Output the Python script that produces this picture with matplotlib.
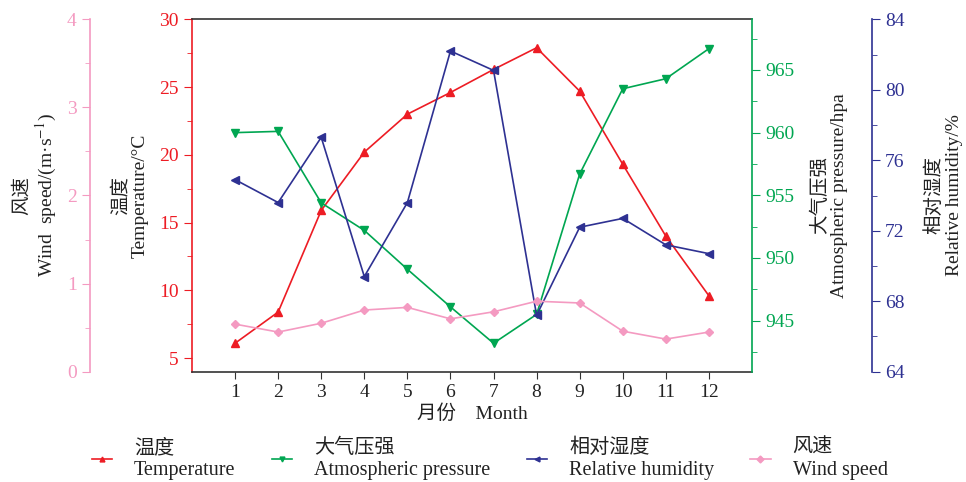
import numpy as np
import matplotlib
matplotlib.use('Agg')
import matplotlib.pyplot as plt
from matplotlib.ticker import MultipleLocator

plt.rcParams['font.family'] = ['Liberation Serif', 'Noto Sans CJK SC']
plt.rcParams['mathtext.fontset'] = 'stix'

# data
months = np.arange(1, 13)
temperature = [6.1, 8.4, 15.9, 20.2, 23.0, 24.6, 26.3, 27.9, 24.7, 19.3, 14.0, 9.6]
pressure = [960.0, 960.1, 954.4, 952.2, 949.1, 946.1, 943.2, 945.5, 956.7, 963.5, 964.3, 966.7]
humidity = [74.9, 73.6, 77.3, 69.4, 73.6, 82.2, 81.1, 67.2, 72.2, 72.7, 71.2, 70.7]
wind = [0.54, 0.45, 0.55, 0.70, 0.73, 0.60, 0.68, 0.80, 0.78, 0.46, 0.37, 0.45]

c_temp = '#ed1c24'
c_pres = '#00a651'
c_hum = '#2e3192'
c_wind = '#f49ac1'
c_frame = '#333333'
fs = 14

fig = plt.figure(figsize=(9.66, 4.82), dpi=100)
ax = fig.add_axes([192 / 966, 1 - 371.7 / 482, 560 / 966, 352.4 / 482])
ax_p = ax.twinx()
ax_h = ax.twinx()
ax_w = ax.twinx()

lt, = ax.plot(months, temperature, color=c_temp, marker='^', ms=6, lw=1.2)
lp, = ax_p.plot(months, pressure, color=c_pres, marker='v', ms=6, lw=1.2)
lh, = ax_h.plot(months, humidity, color=c_hum, marker='<', ms=6, lw=1.2)
lw, = ax_w.plot(months, wind, color=c_wind, marker='D', ms=4, lw=1.2)

# main axis: temperature
ax.set_xlim(0, 13)
ax.set_ylim(4, 30)
ax.set_xticks(months)
ax.yaxis.set_major_locator(MultipleLocator(5))
ax.yaxis.set_minor_locator(MultipleLocator(2.5))
ax.spines['left'].set_color(c_temp)
ax.spines['bottom'].set_color(c_frame)
ax.spines['top'].set_color(c_frame)
ax.spines['right'].set_visible(False)
ax.tick_params(axis='y', which='both', colors=c_temp, direction='out')
ax.tick_params(axis='y', which='major', length=6, labelsize=fs)
ax.tick_params(axis='y', which='minor', length=3.5)
ax.tick_params(axis='x', colors=c_frame, length=5, labelsize=fs, labelcolor='#222222')
ax.set_xlabel('月份    Month', fontsize=fs, color='#222222', labelpad=3)
ax.set_ylabel('温度\nTemperature/°C', fontsize=fs, color='#222222', va='center')
ax.yaxis.set_label_coords(-0.11, 0.5)

# pressure
ax_p.set_ylim(940.93, 969.04)
ax_p.yaxis.set_major_locator(MultipleLocator(5))
ax_p.yaxis.set_minor_locator(MultipleLocator(2.5))
for s in ['left', 'top', 'bottom']:
    ax_p.spines[s].set_visible(False)
ax_p.spines['right'].set_color(c_pres)
ax_p.tick_params(axis='y', which='both', colors=c_pres, direction='out')
ax_p.tick_params(axis='y', which='major', length=6, labelsize=fs)
ax_p.tick_params(axis='y', which='minor', length=3.5)
ax_p.set_ylabel('大气压强\nAtmospheric pressure/hpa', fontsize=fs, color='#222222', va='center')
ax_p.yaxis.set_label_coords(1.138, 0.5)

# humidity
ax_h.set_ylim(64, 84)
ax_h.yaxis.set_major_locator(MultipleLocator(4))
ax_h.yaxis.set_minor_locator(MultipleLocator(2))
for s in ['left', 'top', 'bottom']:
    ax_h.spines[s].set_visible(False)
ax_h.spines['right'].set_position(('axes', 1 + 120 / 560))
ax_h.spines['right'].set_color(c_hum)
ax_h.tick_params(axis='y', which='both', colors=c_hum, direction='out')
ax_h.tick_params(axis='y', which='major', length=6, labelsize=fs)
ax_h.tick_params(axis='y', which='minor', length=3.5)
ax_h.set_ylabel('相对湿度\nRelative humidity/%', fontsize=fs, color='#222222', va='center')
ax_h.yaxis.set_label_coords(1.343, 0.5)

# wind speed on an offset left axis
ax_w.set_ylim(0, 4)
ax_w.yaxis.set_major_locator(MultipleLocator(1))
ax_w.yaxis.set_minor_locator(MultipleLocator(0.5))
ax_w.yaxis.tick_left()
for s in ['right', 'top', 'bottom']:
    ax_w.spines[s].set_visible(False)
ax_w.spines['left'].set_visible(True)
ax_w.spines['left'].set_position(('axes', -102 / 560))
ax_w.spines['left'].set_color(c_wind)
ax_w.tick_params(axis='y', which='both', colors=c_wind, direction='out')
ax_w.tick_params(axis='y', which='major', length=6, labelsize=fs)
ax_w.tick_params(axis='y', which='minor', length=3.5)
ax_w.set_ylabel('风速\nWind  speed/(m·s$^{-1}$)', fontsize=fs, color='#222222', va='center')
ax_w.yaxis.set_label_position('left')
ax_w.yaxis.label.set_verticalalignment('center')
ax_w.yaxis.set_label_coords(-0.278, 0.5)

for a in [ax, ax_p, ax_h, ax_w]:
    for s in a.spines.values():
        s.set_linewidth(1.2)

handles = [lt, lp, lh, lw]
labels = ['温度\nTemperature', '大气压强\nAtmospheric pressure',
          '相对湿度\nRelative humidity', '风速\nWind speed']
leg_handles = []
for h in handles:
    hh, = ax.plot([], [], color=h.get_color(), marker=h.get_marker(), ms=3.5, lw=1.2)
    leg_handles.append(hh)
leg = fig.legend(leg_handles, labels, loc='center', bbox_to_anchor=(0.507, 0.047), ncol=4,
                 frameon=False, fontsize=14.5, handlelength=1.0, handletextpad=1.1,
                 columnspacing=1.8, borderaxespad=0, labelspacing=0)
for t in leg.get_texts():
    t.set_multialignment('left')
    t.set_color('#222222')

fig.savefig('out.png', dpi=100)
